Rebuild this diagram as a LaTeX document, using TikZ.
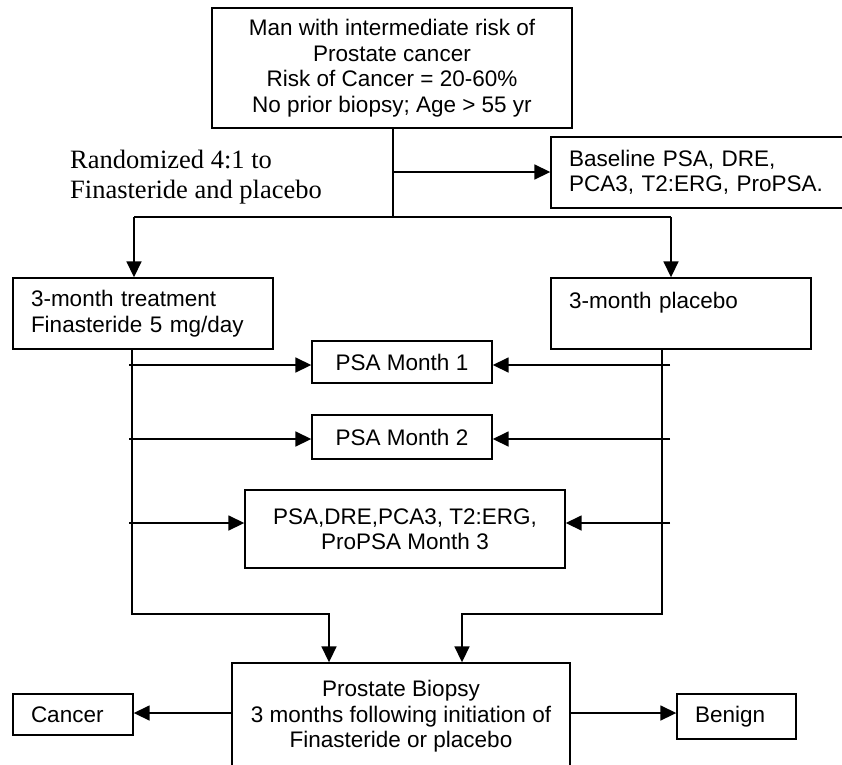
\documentclass[tikz,border=0pt]{standalone}
\usepackage{fontspec}
\setmainfont{Liberation Sans}
\newfontfamily\tnrfont{Liberation Serif}
\usetikzlibrary{arrows.meta}
\newcommand\fsz{\fontsize{22.5}{25.5}\selectfont}
\newcommand\tnrsz{\fontsize{26.5}{30}\selectfont}
\tikzset{
  box/.style={draw, line width=1.4pt, inner sep=0pt, font=\fsz, align=center},
  lbx/.style={box, align=left, inner xsep=18pt},
  conn/.style={line width=1.7pt},
  arr/.style={conn, -{Triangle[length=16pt,width=15pt]}},
}
\begin{document}
\begin{tikzpicture}[x=1pt,y=-1pt]
\useasboundingbox (0,0) rectangle (842,764);
% nodes
\node[box, minimum width=360, minimum height=120] (top) at (392,68)
  {Man with intermediate risk of\\Prostate cancer\\Risk of Cancer = 20-60\%\\No prior biopsy; Age > 55 yr};
\node[lbx, text width=259, minimum height=71] (base) at (698.5,172.5)
  {Baseline PSA, DRE,\\PCA3, T2:ERG, ProPSA.};
\node[anchor=west, inner sep=0pt, align=left, font=\tnrfont\tnrsz] (rand) at (70,177)
  {Randomized 4:1 to\\Finasteride and placebo};
\node[lbx, text width=224, minimum height=71] (lbox) at (143,313.5)
  {3-month treatment\\Finasteride 5 mg/day};
\node[lbx, text width=224, minimum height=71] (rbox) at (681,313.5)
  {3-month placebo\\\mbox{}};
\node[box, minimum width=180, minimum height=42] (m1) at (402,362) {PSA Month 1};
\node[box, minimum width=180, minimum height=44] (m2) at (402,437) {PSA Month 2};
\node[box, minimum width=320, minimum height=78] (m3) at (405,529)
  {PSA,DRE,PCA3, T2:ERG,\\ProPSA Month 3};
\node[box, minimum width=338, minimum height=107] (bio) at (401,716.5)
  {Prostate Biopsy\\3 months following initiation of\\Finasteride or placebo};
\node[lbx, text width=84, minimum height=41] (cancer) at (73,714.5) {Cancer};
\node[lbx, text width=83, minimum height=45] (benign) at (736.5,716.5) {Benign};
% junction coordinates
\coordinate (j0) at (393,172);
\coordinate (j1) at (393,217);
\coordinate (bl) at (134,217);
\coordinate (br) at (671,217);
\coordinate (lv) at (132,614);
\coordinate (la) at (329,614);
\coordinate (rv) at (662,614);
\coordinate (ra) at (462,614);
\coordinate (l1) at (129,365);
\coordinate (r1) at (670,365);
\coordinate (l2) at (129,439);
\coordinate (r2) at (670,439);
\coordinate (l3) at (129,523);
\coordinate (r3) at (670,523);
\coordinate (by) at (401,713);
% connectors
\draw[conn] (top.south -| j1) -- (j1);
\draw[arr] (j0) -- (j0 -| base.west);
\draw[conn] (bl) -- (br);
\draw[arr] (bl) -- (bl |- lbox.north);
\draw[arr] (br) -- (br |- rbox.north);
\draw[arr] (lbox.south -| lv) -- (lv) -- (la) -- (la |- bio.north);
\draw[arr] (rbox.south -| rv) -- (rv) -- (ra) -- (ra |- bio.north);
\draw[arr] (l1) -- (l1 -| m1.west);
\draw[arr] (r1) -- (r1 -| m1.east);
\draw[arr] (l2) -- (l2 -| m2.west);
\draw[arr] (r2) -- (r2 -| m2.east);
\draw[arr] (l3) -- (l3 -| m3.west);
\draw[arr] (r3) -- (r3 -| m3.east);
\draw[arr] (by -| bio.west) -- (by -| cancer.east);
\draw[arr] (by -| bio.east) -- (by -| benign.west);
\end{tikzpicture}
\end{document}
